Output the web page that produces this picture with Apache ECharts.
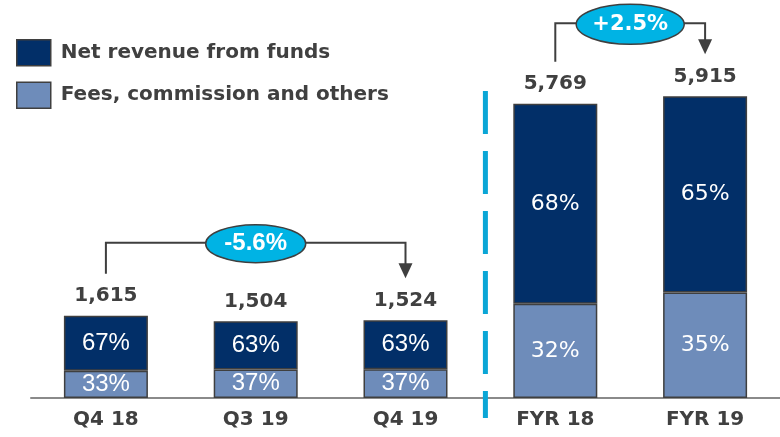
<!DOCTYPE html>
<html>
<head>
<meta charset="utf-8">
<script src="https://cdn.jsdelivr.net/npm/echarts@6/dist/echarts.min.js"></script>
<style>
  html, body { margin: 0; background: #fff; }
  #chart { width: 780px; height: 437px; }
</style>
</head>
<body>
<div id="chart"></div>
<script>
// data
const categories = ['Q4 18', 'Q3 19', 'Q4 19', 'FYR 18', 'FYR 19']
const totals = [1615, 1504, 1524, 5769, 5915]
const fundsPct = [67, 63, 63, 68, 65]
const feesPct = [33, 37, 37, 32, 35]
const changes = [
  { from: 0, to: 2, text: '-5.6%' },
  { from: 3, to: 4, text: '+2.5%' },
]

const colors = {
  funds: '#022f68',
  fees: '#6e8cba',
  border: '#3f3f3f',
  text: '#404040',
  accent: '#00b3e4',
  divider: '#0aa6d6',
}

// segment heights from total x share
const funds = totals.map((t, i) => t * fundsPct[i] / 100)
const fees = totals.map((t, i) => t * feesPct[i] / 100)

// quarterly labels use an Arial look, yearly ones a Tahoma look
const pctFont = i => (i < 3 ? 'Liberation Sans' : 'DejaVu Sans')

function segment(values, pcts) {
  return values.map((v, i) => ({
    value: v,
    label: {
      fontFamily: pctFont(i),
      fontSize: i < 3 ? 24 : 22,
      formatter: `${pcts[i]}%`,
    },
  }))
}

const chart = echarts.init(document.getElementById('chart'))

chart.setOption({
  animation: false,
  legend: {
    data: ['Net revenue from funds', 'Fees, commission and others'],
    orient: 'vertical',
    left: 16,
    top: 39,
    padding: 0,
    itemWidth: 34,
    itemHeight: 26,
    itemGap: 15,
    icon: 'rect',
    itemStyle: { borderColor: colors.border, borderWidth: 1.5 },
    textStyle: {
      fontFamily: 'DejaVu Sans',
      fontWeight: 'bold',
      fontSize: 20,
      color: colors.text,
      padding: [0, 0, 0, 5],
    },
  },
  grid: { left: 31, right: -4, top: 41, bottom: 39 },
  xAxis: {
    type: 'category',
    data: categories,
    axisTick: { show: false },
    axisLine: { lineStyle: { color: '#8a8a8a', width: 2 } },
    axisLabel: {
      fontFamily: 'DejaVu Sans',
      fontWeight: 'bold',
      fontSize: 20,
      color: colors.text,
      margin: 12,
    },
  },
  yAxis: { type: 'value', min: 0, max: 7000, show: false },
  series: [
    {
      name: 'Fees, commission and others',
      type: 'bar',
      stack: 'rev',
      barWidth: 84,
      itemStyle: { color: colors.fees, borderColor: colors.border, borderWidth: 1.5 },
      label: { show: true, position: 'inside', color: '#fff' },
      data: segment(fees, feesPct),
    },
    {
      name: 'Net revenue from funds',
      type: 'bar',
      stack: 'rev',
      barWidth: 84,
      itemStyle: { color: colors.funds, borderColor: colors.border, borderWidth: 1.5 },
      label: { show: true, position: 'inside', color: '#fff' },
      data: segment(funds, fundsPct),
    },
    {
      name: 'Total',
      type: 'scatter',
      symbolSize: 1,
      itemStyle: { color: 'transparent', opacity: 1 },
      silent: true,
      label: {
        show: true,
        position: 'top',
        distance: 9,
        fontFamily: 'DejaVu Sans',
        fontWeight: 'bold',
        fontSize: 20,
        color: colors.text,
        opacity: 1,
        formatter: p => totals[p.dataIndex].toLocaleString('en-US'),
      },
      data: totals,
    },
  ],
})

// brackets, change bubbles and the dashed divider, placed from the axes
function px(i, v) {
  return chart.convertToPixel({ gridIndex: 0 }, [i, v])
}

const graphics = []
changes.forEach((c, k) => {
  const a = px(c.from, totals[c.from])
  const b = px(c.to, totals[c.to])
  const lineY = Math.min(a[1], b[1]) - 73
  const startY = a[1] - 42
  const tipY = b[1] - 42
  graphics.push({
    type: 'polyline',
    shape: { points: [[a[0], startY], [a[0], lineY], [b[0], lineY], [b[0], tipY - 14]] },
    style: { stroke: colors.border, lineWidth: 2, fill: null },
    z: 10,
  })
  graphics.push({
    type: 'polygon',
    shape: { points: [[b[0] - 7, tipY - 15], [b[0] + 7, tipY - 15], [b[0], tipY]] },
    style: { fill: colors.border },
    z: 10,
  })
  graphics.push({
    type: 'ellipse',
    shape: { cx: (a[0] + b[0]) / 2, cy: lineY + 1, rx: k === 0 ? 50 : 54, ry: k === 0 ? 19 : 20 },
    style: { fill: colors.accent, stroke: colors.border, lineWidth: 1.5 },
    z: 11,
  })
  graphics.push({
    type: 'text',
    x: (a[0] + b[0]) / 2,
    y: lineY + 1,
    style: {
      text: c.text,
      fill: '#fff',
      fontFamily: k === 0 ? 'Liberation Sans' : 'DejaVu Sans',
      fontWeight: 'bold',
      fontSize: k === 0 ? 24 : 21,
      align: 'center',
      verticalAlign: 'middle',
    },
    z: 12,
  })
})

const q = px(2, 0)
const y = px(3, 0)
const divX = (q[0] + y[0]) / 2 + 5
graphics.push({
  type: 'line',
  shape: { x1: divX, y1: 91, x2: divX, y2: q[1] + 20 },
  style: { stroke: colors.divider, lineWidth: 5, lineDash: [43, 17] },
  z: 9,
})

chart.setOption({ graphic: graphics })
</script>
</body>
</html>
